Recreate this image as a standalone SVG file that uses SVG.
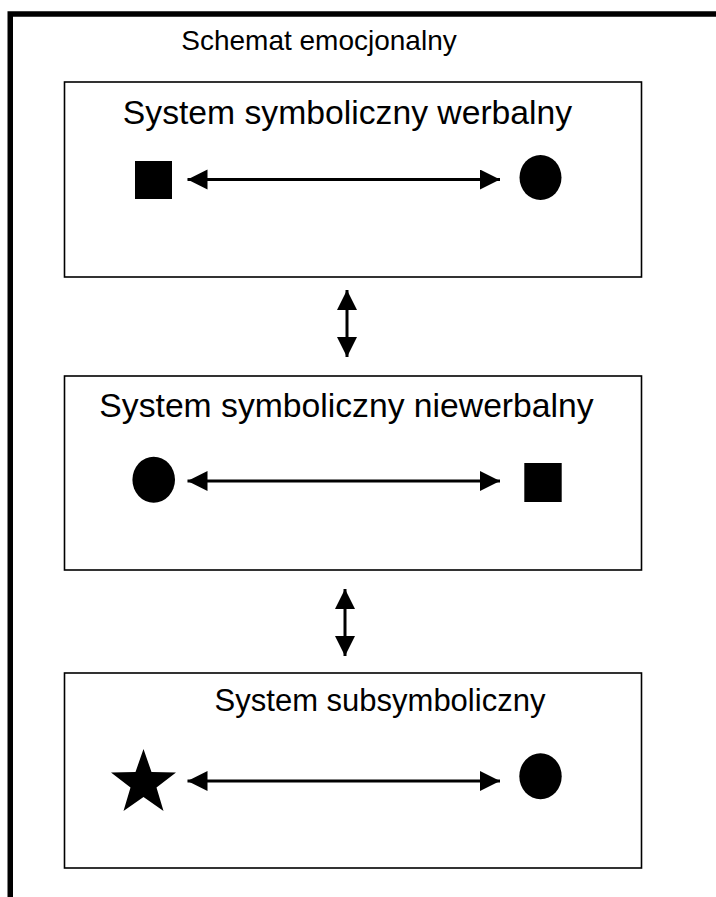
<svg xmlns="http://www.w3.org/2000/svg" width="716" height="897" viewBox="0 0 716 897">
  <style>
    .frame { fill: none; stroke: #000; stroke-width: 5.5; }
    .box { fill: #fff; stroke: #000; stroke-width: 1.6; }
    .lbl { font-family: "Liberation Sans", Arial, Helvetica, sans-serif; font-size: 33.7px; fill: #000; text-anchor: middle; }
    .title { font-size: 28px; }
    .small { font-size: 31px; }
    .shape { fill: #000; }
    .link { stroke: #000; stroke-width: 3; fill: none; marker-start: url(#head); marker-end: url(#head); }
  </style>
  <defs>
    <marker id="head" markerUnits="userSpaceOnUse" markerWidth="21" markerHeight="21" refX="20" refY="10" orient="auto-start-reverse">
      <path d="M0,0 L20,10 L0,20 Z" fill="#000"/>
    </marker>
  </defs>
  <rect width="716" height="897" fill="#fff"/>

  <!-- outer frame, open on the right and bottom -->
  <g id="frame">
    <path class="frame" d="M10.25,900 L10.25,14 L720,14"/>
    <text class="lbl title" x="319" y="50">Schemat emocjonalny</text>
  </g>

  <g id="verbal">
    <rect class="box" x="64.5" y="82" width="577" height="195"/>
    <text class="lbl" x="347.5" y="124">System symboliczny werbalny</text>
    <rect class="shape" x="135" y="161" width="37" height="38"/>
    <ellipse class="shape" cx="540.5" cy="177.5" rx="21" ry="22.5"/>
  </g>

  <g id="nonverbal">
    <rect class="box" x="64.5" y="376" width="577" height="194"/>
    <text class="lbl" x="346.5" y="417">System symboliczny niewerbalny</text>
    <ellipse class="shape" cx="153.7" cy="479.7" rx="21.3" ry="23"/>
    <rect class="shape" x="524.3" y="463" width="37.4" height="39"/>
  </g>

  <g id="subsymbolic">
    <rect class="box" x="64.5" y="673" width="577" height="195"/>
    <text class="lbl small" x="380" y="711">System subsymboliczny</text>
    <polygon class="shape" points="143.5,749 151.5,772 176,772.5 156.5,787.5 163.5,811 143.5,797 123.5,811 130.5,787.5 111,772.5 135.5,772"/>
    <ellipse class="shape" cx="540.5" cy="776.3" rx="21.2" ry="23"/>
  </g>

  <g id="connectors">
    <line class="link" x1="187.5" y1="179.5" x2="500" y2="179.5"/>
    <line class="link" x1="187.5" y1="481" x2="500" y2="481"/>
    <line class="link" x1="187.5" y1="781" x2="500" y2="781"/>
    <line class="link" x1="347" y1="290" x2="347" y2="357"/>
    <line class="link" x1="345" y1="589" x2="345" y2="656"/>
  </g>
</svg>
